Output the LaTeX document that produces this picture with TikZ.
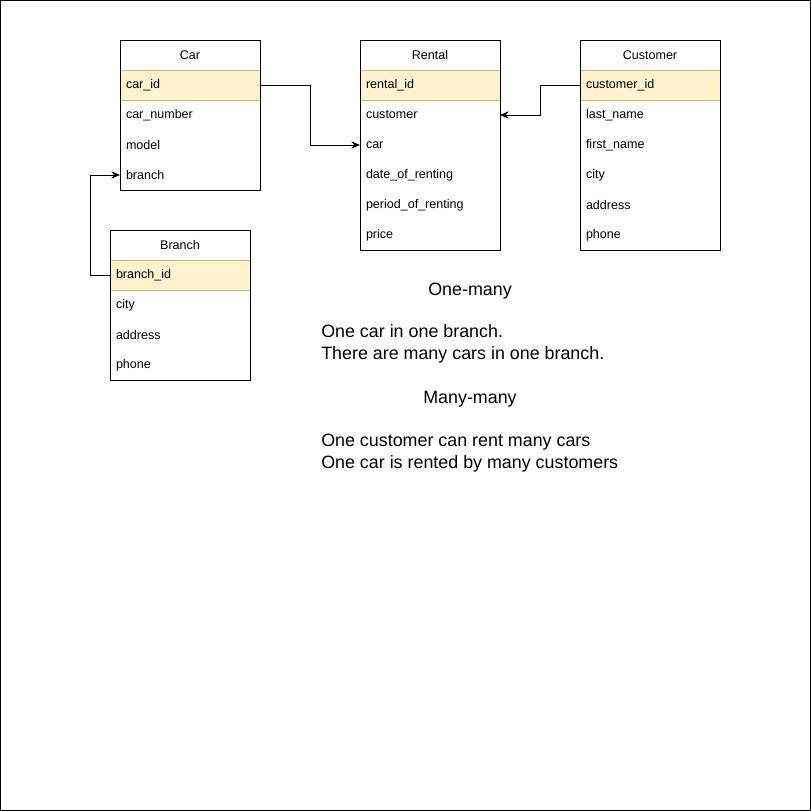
\documentclass[tikz,border=0pt]{standalone}
\usepackage{fontspec}
\setmainfont{Liberation Sans}
\usetikzlibrary{arrows.meta, positioning}

\definecolor{keyfill}{HTML}{FFF2CC}
\definecolor{keydraw}{HTML}{D6B656}

\begin{document}
\begin{tikzpicture}[
  x=0.75pt, y=-0.75pt,
  node distance=0pt,
  tabhead/.style={
    minimum width=105pt, minimum height=22.5pt,
    inner sep=0pt, outer sep=0pt, align=center,
    font=\fontsize{9.4}{11}\selectfont
  },
  tabrow/.style={
    minimum width=105pt, minimum height=22.5pt,
    inner xsep=4.5pt, inner ysep=0pt, outer sep=0pt,
    text width=96pt, align=left, font=\fontsize{9.4}{11}\selectfont
  },
  keyrow/.style={tabrow, fill=keyfill, draw=keydraw, line width=0.75pt},
  tabbox/.style={draw, line width=0.75pt},
  note/.style={inner sep=0pt, align=left, font=\fontsize{13.4}{16.5}\selectfont},
  conn/.style={-{Stealth[length=6.5pt, width=5.5pt]}, line width=0.75pt}
]
  \useasboundingbox (0,0) rectangle (811,811);
  \draw[line width=0.75pt] (0.5,0.5) rectangle (810.5,810.5);

  % Car
  \node[tabhead, anchor=north west] (carh) at (120,40) {Car};
  \node[keyrow, below=of carh] (carid) {car\_id};
  \node[tabrow, below=of carid] (carnum) {car\_number};
  \node[tabrow, below=of carnum] (carmodel) {model};
  \node[tabrow, below=of carmodel] (carbranch) {branch};
  \draw[tabbox] (carh.north west) rectangle (carbranch.south east);

  % Rental
  \node[tabhead, anchor=north west] (renh) at (360,40) {Rental};
  \node[keyrow, below=of renh] (renid) {rental\_id};
  \node[tabrow, below=of renid] (rencust) {customer};
  \node[tabrow, below=of rencust] (rencar) {car};
  \node[tabrow, below=of rencar] (rendate) {date\_of\_renting};
  \node[tabrow, below=of rendate] (renperiod) {period\_of\_renting};
  \node[tabrow, below=of renperiod] (renprice) {price};
  \draw[tabbox] (renh.north west) rectangle (renprice.south east);

  % Customer
  \node[tabhead, anchor=north west] (custh) at (580,40) {Customer};
  \node[keyrow, below=of custh] (custid) {customer\_id};
  \node[tabrow, below=of custid] (custlast) {last\_name};
  \node[tabrow, below=of custlast] (custfirst) {first\_name};
  \node[tabrow, below=of custfirst] (custcity) {city};
  \node[tabrow, below=of custcity] (custaddr) {address};
  \node[tabrow, below=of custaddr] (custphone) {phone};
  \draw[tabbox] (custh.north west) rectangle (custphone.south east);

  % Branch
  \node[tabhead, anchor=north west] (brh) at (110,230) {Branch};
  \node[keyrow, below=of brh] (brid) {branch\_id};
  \node[tabrow, below=of brid] (brcity) {city};
  \node[tabrow, below=of brcity] (braddr) {address};
  \node[tabrow, below=of braddr] (brphone) {phone};
  \draw[tabbox] (brh.north west) rectangle (brphone.south east);

  % relations
  \draw[conn] (carid.east) -- ++(50,0) |- (rencar.west);
  \draw[conn] (custid.west) -- ++(-40,0) |- (rencust.east);
  \draw[conn] (brid.west) -- ++(-20,0) |- (carbranch.west);

  % notes
  \node[note] (onemany) at (470,291) {One-many};
  \node[note, anchor=west] (onemanytxt) at (321,344)
    {One car in one branch.\\There are many cars in one branch.};
  \node[note] (manymany) at (470,399) {Many-many};
  \node[note, anchor=west] (manymanytxt) at (321,453)
    {One customer can rent many cars\\One car is rented by many customers};
\end{tikzpicture}
\end{document}
